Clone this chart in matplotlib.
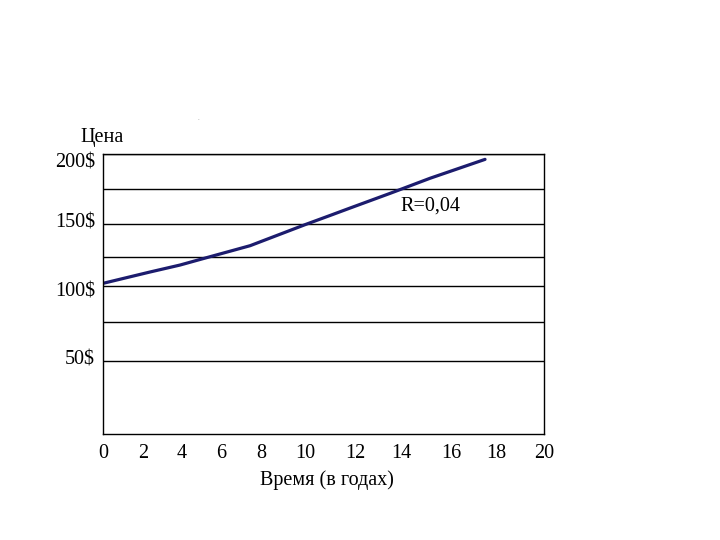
import numpy as np
import matplotlib.pyplot as plt
from matplotlib.transforms import ScaledTranslation

# values
years = [0, 2.37, 3.91, 4.93, 7.43, 10.04, 11.0, 11.8, 13.5, 13.93, 15.13, 17.48]
price = [102.1, 111.8, 117.8, 122.6, 133.5, 150.0, 156.3, 161.6, 172.1, 174.8, 182.8, 196.2]

x_ticks = [0, 2, 4, 6, 8, 10, 12, 14, 16, 18, 20]
y_ticks = [50, 75, 100, 125, 150, 175, 200]
y_labels = ['50$', '', '100$', '', '150$', '', '200$']

# the original axes are unevenly spaced, so map ticks onto where they sit
x_pos = [0, 39.4, 78.4, 117.7, 158.4, 201.7, 251.7, 298.4, 348.4, 393.4, 441]
y_vals = [0, 50, 75, 100, 125, 150, 175, 200]
y_pos = [0, 73, 112, 148.3, 177.3, 209.7, 244.7, 280]
y_label_shift = [4, 0, -4, 0, 4, 0, -6]  # labels don't sit exactly on their lines

plt.rcParams['font.family'] = ['Liberation Serif', 'DejaVu Serif']

fig = plt.figure(figsize=(7.2, 5.4), dpi=100)
ax = fig.add_axes([0.1435, 0.1963, 0.6125, 0.5185])

ax.set_xscale('function', functions=(lambda v: np.interp(v, x_ticks, x_pos),
                                     lambda p: np.interp(p, x_pos, x_ticks)))
ax.set_yscale('function', functions=(lambda v: np.interp(v, y_vals, y_pos),
                                     lambda p: np.interp(p, y_pos, y_vals)))

ax.plot(years, price, color='#1c1c6e', lw=2.3, solid_capstyle='round')

ax.set_xlim(0, 20)
ax.set_ylim(0, 200)
ax.set_xticks(x_ticks)
ax.set_xticklabels([str(t) for t in x_ticks])
ax.set_yticks(y_ticks)
ax.set_yticklabels(y_labels)
ax.yaxis.grid(True, color='black', lw=1)
ax.tick_params(length=0, labelsize=14.5)
ax.tick_params(axis='x', pad=7)
ax.tick_params(axis='y', pad=6)
for s in ax.spines.values():
    s.set_linewidth(1)

for lab, dy in zip(ax.get_yticklabels(), y_label_shift):
    lab.set_transform(lab.get_transform() + ScaledTranslation(0, dy / 100, fig.dpi_scale_trans))

fig.text(102 / 720, 1 - 137 / 540, 'Цена', fontsize=14.5, ha='center', va='center')
fig.text(327 / 720, 1 - 480 / 540, 'Время (в годах)', fontsize=14.5, ha='center', va='center')
ax.text(0.742, 0.815, 'R=0,04', transform=ax.transAxes, fontsize=14.5, ha='center', va='center')
fig.text(198 / 720, 1 - 118 / 540, '.', fontsize=5, color='gray', ha='center', va='center')

fig.savefig('out.png', dpi=100, facecolor='white')
